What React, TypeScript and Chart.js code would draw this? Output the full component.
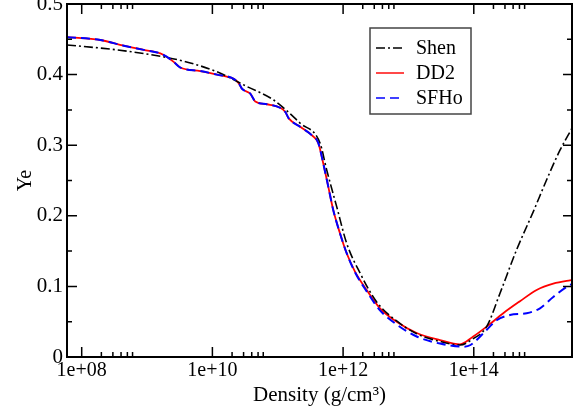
import React, { useEffect, useRef } from "react";
import { Chart, registerables } from "chart.js";

Chart.register(...registerables);

// log10 of density (g/cm^3) and electron fraction Ye
const shenLogRho = [7.775, 8.54, 9.203, 9.561, 10.07, 10.53, 10.938, 11.345, 11.647, 11.749, 11.902, 12.055, 12.259, 12.514, 12.82, 13.126, 13.483, 13.789, 13.992, 14.197, 14.4, 14.656, 14.911, 15.115, 15.319, 15.503];
const shenYe = [0.442, 0.435, 0.426, 0.419, 0.404, 0.383, 0.364, 0.331, 0.303, 0.265, 0.213, 0.161, 0.119, 0.078, 0.051, 0.033, 0.022, 0.017, 0.026, 0.043, 0.09, 0.152, 0.206, 0.251, 0.293, 0.324];

const dd2LogRho = [7.775, 8.285, 8.643, 8.949, 9.203, 9.305, 9.408, 9.509, 9.815, 10.07, 10.326, 10.402, 10.453, 10.58, 10.656, 10.835, 11.039, 11.116, 11.168, 11.345, 11.524, 11.621, 11.697, 11.774, 11.85, 11.953, 12.055, 12.182, 12.361, 12.565, 12.82, 13.126, 13.483, 13.789, 13.992, 14.197, 14.451, 14.707, 14.962, 15.216, 15.472, 15.503];
const dd2Ye = [0.453, 0.449, 0.441, 0.435, 0.43, 0.425, 0.418, 0.41, 0.405, 0.4, 0.394, 0.388, 0.38, 0.373, 0.362, 0.358, 0.353, 0.347, 0.338, 0.326, 0.314, 0.303, 0.274, 0.241, 0.208, 0.175, 0.147, 0.121, 0.095, 0.069, 0.05, 0.034, 0.024, 0.018, 0.029, 0.043, 0.062, 0.079, 0.095, 0.104, 0.1086, 0.109];

const sfhoLogRho = [7.775, 8.285, 8.643, 8.949, 9.203, 9.305, 9.408, 9.509, 9.815, 10.07, 10.326, 10.402, 10.453, 10.58, 10.656, 10.835, 11.039, 11.116, 11.168, 11.345, 11.524, 11.621, 11.697, 11.774, 11.85, 11.953, 12.055, 12.182, 12.361, 12.565, 12.82, 13.126, 13.483, 13.84, 13.95, 14.145, 14.35, 14.554, 14.809, 15.013, 15.216, 15.472, 15.503];
const sfhoYe = [0.453, 0.449, 0.441, 0.435, 0.43, 0.425, 0.418, 0.41, 0.405, 0.4, 0.394, 0.388, 0.38, 0.373, 0.362, 0.358, 0.353, 0.347, 0.338, 0.326, 0.314, 0.303, 0.274, 0.241, 0.208, 0.175, 0.147, 0.12, 0.093, 0.066, 0.046, 0.029, 0.019, 0.0146, 0.017, 0.0335, 0.052, 0.0595, 0.062, 0.069, 0.085, 0.102, 0.103];

const seriesNames = ["Shen", "DD2", "SFHo"];
const xLogMin = 7.775;
const xLogMax = 15.503;
const xMajorTicks = [1e8, 1e10, 1e12, 1e14];
const xMinorFactors = [2, 3, 4, 5, 6];
const yMajorTicks = [0, 0.1, 0.2, 0.3, 0.4, 0.5];
const yMinorTicks = [0.05, 0.15, 0.25, 0.35, 0.45];

const FONT = "'Liberation Serif', 'Times New Roman', serif";

const toPoints = (lx: number[], ye: number[]) => lx.map((v, i) => ({ x: Math.pow(10, v), y: ye[i] }));

const styles = [
  { color: "#000000", dash: [9, 3, 2, 3], width: 1.6 },
  { color: "#ff0000", dash: [] as number[], width: 1.8 },
  { color: "#0000ff", dash: [9, 5], width: 2 },
];

const framePlugin = {
  id: "frameTicks",
  afterDatasetsDraw(chart: any) {
    const { ctx, chartArea: a } = chart;
    const xs = chart.scales.x;
    const ys = chart.scales.y;
    ctx.save();
    ctx.strokeStyle = "#000";
    ctx.lineWidth = 1.5;
    ctx.beginPath();
    const tick = (x1: number, y1: number, x2: number, y2: number) => {
      ctx.moveTo(x1, y1);
      ctx.lineTo(x2, y2);
    };
    xMajorTicks.forEach((v) => {
      const px = xs.getPixelForValue(v);
      tick(px, a.bottom, px, a.bottom - 10);
      tick(px, a.top, px, a.top + 10);
      xMinorFactors.forEach((f) => {
        const mx = xs.getPixelForValue(v * f);
        if (mx < a.right) {
          tick(mx, a.bottom, mx, a.bottom - 5);
          tick(mx, a.top, mx, a.top + 5);
        }
      });
    });
    yMajorTicks.forEach((v) => {
      const py = ys.getPixelForValue(v);
      tick(a.left, py, a.left + 10, py);
      tick(a.right, py, a.right - 9, py);
    });
    yMinorTicks.forEach((v) => {
      const py = ys.getPixelForValue(v);
      tick(a.left, py, a.left + 5, py);
      tick(a.right, py, a.right - 5, py);
    });
    ctx.stroke();
    ctx.lineWidth = 2;
    ctx.strokeRect(a.left, a.top, a.right - a.left, a.bottom - a.top);
    ctx.restore();
  },
  afterDraw(chart: any) {
    const { ctx, chartArea: a } = chart;
    const bx = a.left + 303;
    const by = a.top + 24;
    const bw = 101;
    const bh = 86;
    ctx.save();
    ctx.fillStyle = "#fff";
    ctx.fillRect(bx, by, bw, bh);
    ctx.strokeStyle = "#444";
    ctx.lineWidth = 1.5;
    ctx.strokeRect(bx, by, bw, bh);
    ctx.font = `20px ${FONT}`;
    ctx.textBaseline = "middle";
    seriesNames.forEach((name, i) => {
      const y = by + 20 + i * 25;
      const s = styles[i];
      ctx.strokeStyle = s.color;
      ctx.lineWidth = s.width * 0.8;
      ctx.setLineDash(s.dash);
      ctx.beginPath();
      ctx.moveTo(bx + 6, y);
      ctx.lineTo(bx + 34, y);
      ctx.stroke();
      ctx.setLineDash([]);
      ctx.fillStyle = "#000";
      ctx.fillText(name, bx + 46, y + 1);
    });
    ctx.restore();
  },
};

export default function App() {
  const ref = useRef<HTMLCanvasElement | null>(null);
  useEffect(() => {
    document.body.style.margin = "0";
    const canvas = ref.current;
    if (!canvas) return;
    const data = [
      toPoints(shenLogRho, shenYe),
      toPoints(dd2LogRho, dd2Ye),
      toPoints(sfhoLogRho, sfhoYe),
    ];
    const chart = new Chart(canvas, {
      type: "scatter",
      data: {
        datasets: seriesNames.map((name, i) => ({
          label: name,
          data: data[i],
          showLine: true,
          borderColor: styles[i].color,
          backgroundColor: styles[i].color,
          borderWidth: styles[i].width,
          borderDash: styles[i].dash,
          pointRadius: 0,
          cubicInterpolationMode: "monotone" as const,
          order: i === 2 ? 0 : i === 0 ? 1 : 2,
        })),
      },
      options: {
        animation: false,
        responsive: false,
        devicePixelRatio: 1,
        layout: { padding: { top: 4, right: 12, left: 0, bottom: 0 } },
        plugins: { legend: { display: false }, tooltip: { enabled: false } },
        scales: {
          x: {
            type: "logarithmic",
            min: Math.pow(10, xLogMin),
            max: Math.pow(10, xLogMax),
            grid: { display: false, drawTicks: false },
            border: { display: false },
            afterBuildTicks: (s: any) => {
              s.ticks = xMajorTicks.map((v) => ({ value: v }));
            },
            afterFit: (s: any) => {
              s.height = 57;
              s.paddingLeft = 0;
              s.paddingRight = 0;
            },
            ticks: {
              autoSkip: false,
              maxRotation: 0,
              padding: 2,
              color: "#000",
              font: { family: FONT, size: 20 },
              callback: (v: any) => "1e+" + String(Math.round(Math.log10(Number(v)))).padStart(2, "0"),
            },
            title: {
              display: true,
              text: "Density (g/cm³)",
              color: "#000",
              font: { family: FONT, size: 21 },
              padding: { top: 0, bottom: 6 },
            },
          },
          y: {
            type: "linear",
            min: 0,
            max: 0.5,
            grid: { display: false, drawTicks: false },
            border: { display: false },
            afterFit: (s: any) => {
              s.width = 67;
              s.paddingTop = 0;
              s.paddingBottom = 0;
            },
            ticks: {
              stepSize: 0.1,
              padding: 4,
              color: "#000",
              font: { family: FONT, size: 21 },
            },
            title: {
              display: true,
              text: "Ye",
              color: "#000",
              font: { family: FONT, size: 20 },
              padding: { top: 14, bottom: 0 },
            },
          },
        },
      },
      plugins: [framePlugin],
    });
    return () => chart.destroy();
  }, []);
  return (
    <div style={{ width: 584, height: 414 }}>
      <canvas ref={ref} width={584} height={414} style={{ display: "block" }} />
    </div>
  );
}
